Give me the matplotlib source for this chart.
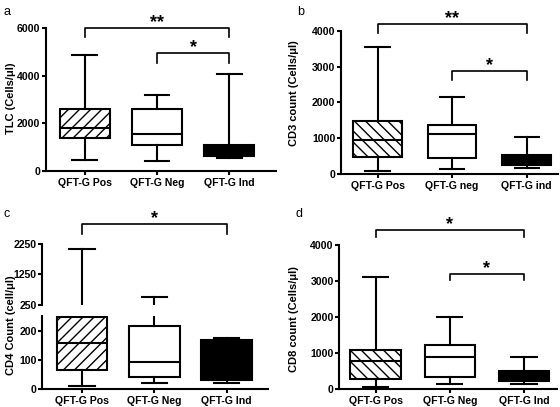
import matplotlib
matplotlib.use("Agg")
import matplotlib.pyplot as plt

plt.rcParams['font.family'] = ['Liberation Sans', 'DejaVu Sans']
plt.rcParams['hatch.linewidth'] = 1.0

# ---- data ----
labels_a = ["QFT-G Pos", "QFT-G Neg", "QFT-G Ind"]
labels_b = ["QFT-G Pos", "QFT-G neg", "QFT-G ind"]
labels_c = ["QFT-G Pos", "QFT-G Neg", "QFT-G Ind"]
labels_d = ["QFT-G Pos", "QFT-G Neg", "QFT-G Ind"]

# min, q1, median, q3, max per group
tlc_min = [470, 400, 550]
tlc_q1 = [1380, 1080, 620]
tlc_med = [1810, 1550, 850]
tlc_q3 = [2600, 2620, 1100]
tlc_max = [4850, 3180, 4080]

cd3_min = [90, 130, 180]
cd3_q1 = [480, 460, 240]
cd3_med = [940, 1120, 380]
cd3_q3 = [1490, 1370, 540]
cd3_max = [3540, 2150, 1040]

cd4_min = [12, 22, 19]
cd4_q1 = [64, 42, 30]
cd4_med = [156, 94, 160]
cd4_q3 = [248, 215, 168]
cd4_max = [2080, 520, 175]

cd8_min = [50, 130, 140]
cd8_q1 = [270, 320, 210]
cd8_med = [760, 880, 350]
cd8_q3 = [1090, 1210, 500]
cd8_max = [3120, 2000, 880]

ylabels = ["TLC (Cells/\u03bcl)", "CD3 count (Cells/\u03bcl)",
           "CD4 Count (cell/\u03bcl)", "CD8 count (Cells/\u03bcl)"]

LW = 1.5
FS_TICK = 7.6
FS_LAB = 8


def stats(mn, q1, med, q3, mx):
    return [dict(whislo=a, q1=b, med=c, q3=d, whishi=e, fliers=[])
            for a, b, c, d, e in zip(mn, q1, med, q3, mx)]


def draw(ax, st, width, hatch):
    res = ax.bxp(st, positions=[0, 1, 2], widths=width, patch_artist=True,
                 showfliers=False,
                 boxprops=dict(linewidth=LW, edgecolor='black'),
                 whiskerprops=dict(linewidth=LW, color='black'),
                 capprops=dict(linewidth=LW, color='black'),
                 medianprops=dict(linewidth=LW, color='black'))
    faces = ['white', 'white', 'black']
    for i, b in enumerate(res['boxes']):
        b.set_facecolor(faces[i])
        if i == 0:
            b.set_hatch(hatch)
    return res


def style(ax, labels, bottom=True):
    for s in ['top', 'right']:
        ax.spines[s].set_visible(False)
    ax.spines['left'].set_linewidth(LW)
    ax.spines['bottom'].set_linewidth(LW)
    ax.tick_params(axis='y', width=LW, length=3, labelsize=FS_TICK, pad=1)
    if bottom:
        ax.set_xticks([0, 1, 2])
        ax.set_xticklabels(labels, fontsize=FS_TICK, fontweight='bold')
        ax.tick_params(axis='x', width=LW, length=3, pad=2)
    for t in ax.get_yticklabels():
        t.set_fontweight('bold')


def bracket(ax, x0, x1, y, drop, stars):
    ax.plot([x0, x0, x1, x1], [y - drop, y, y, y - drop], color='black',
            lw=1.2, clip_on=False)
    ax.annotate(stars, xy=((x0 + x1) / 2, y), xytext=(0, 4),
                textcoords='offset points', ha='center', va='center',
                fontsize=13, fontweight='bold', annotation_clip=False)


def ylab(s, x, y):
    fig.text(x, y, s, rotation=90, ha='center', va='center',
             fontsize=FS_LAB, fontweight='bold')


fig = plt.figure(figsize=(5.6, 4.07), dpi=100)

# ---- a ----
ax = fig.add_axes([0.0821, 0.5799, 0.4107, 0.3514])
draw(ax, stats(tlc_min, tlc_q1, tlc_med, tlc_q3, tlc_max), 0.69, '///')
ax.set_ylim(0, 6000)
ax.set_xlim(-0.54, 2.65)
ax.set_yticks([0, 2000, 4000, 6000])
style(ax, labels_a)
ylab(ylabels[0], 0.0195, 0.758)
bracket(ax, 0, 2, 6000, 380, "**")
bracket(ax, 1, 2, 4940, 420, "*")

# ---- b ----
ax = fig.add_axes([0.6089, 0.5725, 0.3875, 0.3514])
draw(ax, stats(cd3_min, cd3_q1, cd3_med, cd3_q3, cd3_max), 0.65, '\\\\\\')
ax.set_ylim(0, 4000)
ax.set_xlim(-0.49, 2.42)
ax.set_yticks([0, 1000, 2000, 3000, 4000])
style(ax, labels_b)
ylab(ylabels[1], 0.525, 0.770)
bracket(ax, 0, 2, 4190, 250, "**")
bracket(ax, 1, 2, 2890, 260, "*")

# ---- c (broken axis) ----
st_c = stats(cd4_min, cd4_q1, cd4_med, cd4_q3, cd4_max)
axl = fig.add_axes([0.0755, 0.0442, 0.403, 0.1794])
draw(axl, st_c, 0.70, '///')
axl.set_ylim(0, 250)
axl.set_xlim(-0.55, 2.57)
axl.set_yticks([0, 100, 200])
style(axl, labels_c)

axu = fig.add_axes([0.0755, 0.2506, 0.403, 0.1506])
res_u = draw(axu, st_c, 0.70, '///')
for art in res_u['boxes'] + res_u['medians']:
    art.set_visible(False)
axu.set_ylim(250, 2250)
axu.set_xlim(-0.55, 2.57)
axu.set_yticks([250, 1250, 2250])
style(axu, labels_c, bottom=False)
axu.spines['bottom'].set_visible(False)
axu.set_xticks([])
bracket(axu, 0, 2, 2890, 330, "*")
ylab(ylabels[2], 0.0195, 0.200)

# ---- d ----
ax = fig.add_axes([0.6059, 0.045, 0.3882, 0.3532])
draw(ax, stats(cd8_min, cd8_q1, cd8_med, cd8_q3, cd8_max), 0.68, '\\\\\\')
ax.set_ylim(0, 4000)
ax.set_xlim(-0.49, 2.44)
ax.set_yticks([0, 1000, 2000, 3000, 4000])
style(ax, labels_d)
ylab(ylabels[3], 0.525, 0.216)
bracket(ax, 0, 2, 4420, 200, "*")
bracket(ax, 1, 2, 3190, 170, "*")

# panel letters
for s, x, y in [("a", 0.007, 0.985), ("b", 0.530, 0.985),
                ("c", 0.007, 0.488), ("d", 0.528, 0.488)]:
    fig.text(x, y, s, fontsize=9, ha='left', va='top')

fig.savefig("out.png", dpi=100)
